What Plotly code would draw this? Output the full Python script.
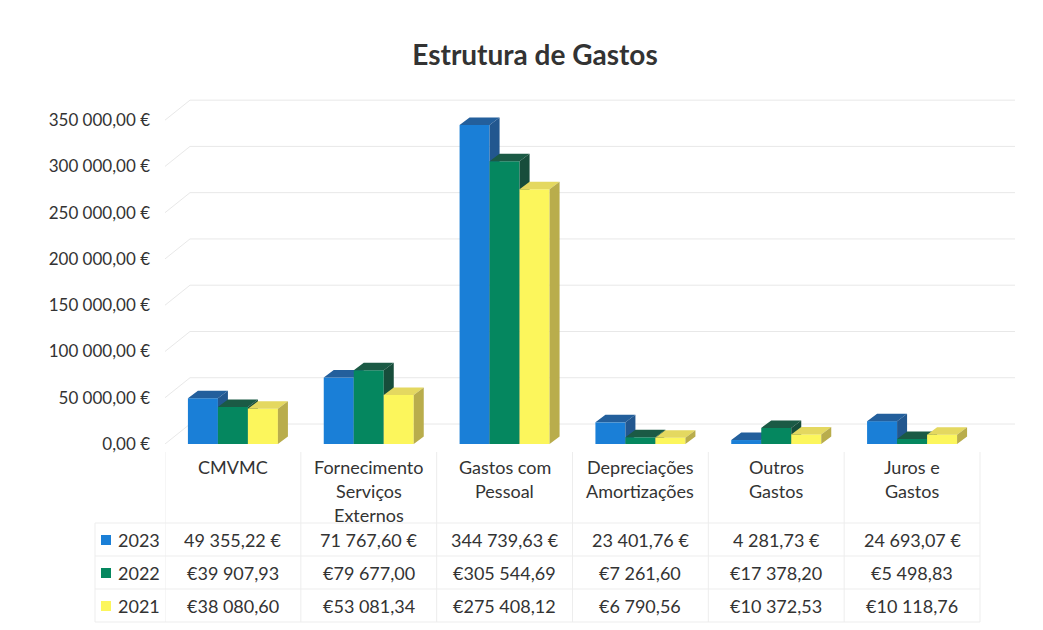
import plotly.graph_objects as go

# ---------------- data ----------------
categories = [
    ["CMVMC"],
    ["Fornecimento", "Serviços", "Externos"],
    ["Gastos com", "Pessoal"],
    ["Depreciações", "Amortizações"],
    ["Outros", "Gastos"],
    ["Juros e", "Gastos"],
]
years = ["2023", "2022", "2021"]
values_2023 = [49355.22, 71767.60, 344739.63, 23401.76, 4281.73, 24693.07]
values_2022 = [39907.93, 79677.00, 305544.69, 7261.60, 17378.20, 5498.83]
values_2021 = [38080.60, 53081.34, 275408.12, 6790.56, 10372.53, 10118.76]
labels_2023 = ["49 355,22 €", "71 767,60 €", "344 739,63 €", "23 401,76 €", "4 281,73 €", "24 693,07 €"]
labels_2022 = ["€39 907,93", "€79 677,00", "€305 544,69", "€7 261,60", "€17 378,20", "€5 498,83"]
labels_2021 = ["€38 080,60", "€53 081,34", "€275 408,12", "€6 790,56", "€10 372,53", "€10 118,76"]
tick_values = [0, 50000, 100000, 150000, 200000, 250000, 300000, 350000]
tick_labels = ["0,00 €", "50 000,00 €", "100 000,00 €", "150 000,00 €", "200 000,00 €",
               "250 000,00 €", "300 000,00 €", "350 000,00 €"]

series = [
    (years[0], values_2023, labels_2023),
    (years[1], values_2022, labels_2022),
    (years[2], values_2021, labels_2021),
]

# ---------------- styling ----------------
FONT = "Lato, Carlito, Calibri, 'Open Sans', sans-serif"
TXT = "#333333"
front_col = ["#1a7fd7", "#05875f", "#fcf65c"]
top_col = ["#235f9c", "#1b5a45", "#e4d860"]
side_col = ["#22578f", "#174d3b", "#b9ad4c"]

OFF = 8  # page body margin of the browser
W, H = 1043 - OFF, 630 - OFF
# plot area in page pixels: x 165..1015, y 97..444
L = 165 - OFF
R = W - (1015 - OFF)
T = 97 - OFF
B = H - (444 - OFF)
plot_w = W - L - R
plot_h = H - T - B
col_px = (980 - 165) / 6.0
x_range = [-0.5, -0.5 + plot_w / col_px]
y_max = 375000
y_range = [0, y_max]
px_per_val = plot_h / y_max

bar_w = 30 / col_px
dx_bar = 10 / col_px
dy_bar = 7.5 / px_per_val
dx_wall = 25 / col_px
dy_wall = 20 / px_per_val


def pxx(X):
    return (X - OFF - L) / plot_w


def pxy(Y):
    return (H - B - (Y - OFF)) / plot_h


fig = go.Figure()

# back wall grid (base subplot)
gx, gy = [], []
for v in tick_values:
    gx += [x_range[0], x_range[0] + dx_wall, x_range[1], None]
    gy += [v, v + dy_wall, v + dy_wall, None]
fig.add_trace(go.Scatter(x=gx, y=gy, mode="lines", line=dict(color="#e8e8e8", width=1),
                         hoverinfo="skip", showlegend=False, xaxis="x", yaxis="y"))

idx = list(range(len(categories)))
for i, (name, vals, _) in enumerate(series):
    xa = "x%d" % (i + 2)
    ya = "y%d" % (i + 2)
    off = -1.5 * bar_w + i * bar_w
    fig.add_trace(go.Bar(x=idx, y=vals, width=bar_w, offset=off, name=name,
                         marker=dict(color=front_col[i], line=dict(width=0)),
                         showlegend=False, xaxis=xa, yaxis=ya))
    tx, ty, sx, sy = [], [], [], []
    for c, v in zip(idx, vals):
        x0 = c + off
        x1 = x0 + bar_w
        tx += [x0, x1, x1 + dx_bar, x0 + dx_bar, x0, None]
        ty += [v, v, v + dy_bar, v + dy_bar, v, None]
        sx += [x1, x1 + dx_bar, x1 + dx_bar, x1, x1, None]
        sy += [0, dy_bar, v + dy_bar, v, 0, None]
    fig.add_trace(go.Scatter(x=tx, y=ty, fill="toself", fillcolor=top_col[i], mode="lines",
                             line=dict(width=0, color=top_col[i]), hoverinfo="skip",
                             showlegend=False, xaxis=xa, yaxis=ya))
    fig.add_trace(go.Scatter(x=sx, y=sy, fill="toself", fillcolor=side_col[i], mode="lines",
                             line=dict(width=0, color=side_col[i]), hoverinfo="skip",
                             showlegend=False, xaxis=xa, yaxis=ya))

annotations = []
# category labels
line_h = 24
for c, lines in zip(idx, categories):
    for k, t in enumerate(lines):
        annotations.append(dict(x=c, y=pxy(467 + k * line_h), xref="x", yref="paper",
                                text=t, showarrow=False, xanchor="center", yanchor="middle",
                                font=dict(family=FONT, size=18, color=TXT)))
# table rows
row_y = [540, 573, 606]
for r, (name, vals, labs) in enumerate(series):
    for c, t in zip(idx, labs):
        annotations.append(dict(x=c, y=pxy(row_y[r]), xref="x", yref="paper",
                                text=t, showarrow=False, xanchor="center", yanchor="middle",
                                font=dict(family=FONT, size=18, color=TXT)))
    annotations.append(dict(x=pxx(116), y=pxy(row_y[r]), xref="paper", yref="paper",
                            text=name, showarrow=False, xanchor="left", yanchor="middle",
                            font=dict(family=FONT, size=18, color=TXT)))

shapes = []
for r in range(3):
    Yc = row_y[r]
    shapes.append(dict(type="rect", xref="paper", yref="paper",
                       x0=pxx(101), x1=pxx(111), y0=pxy(Yc + 5), y1=pxy(Yc - 5),
                       fillcolor=front_col[r], line=dict(width=0)))
# faint table grid
grid_c = "#ededed"
for k in range(7):
    shapes.append(dict(type="line", xref="x", yref="paper", x0=-0.5 + k, x1=-0.5 + k,
                       y0=pxy(452), y1=pxy(622), line=dict(color=grid_c, width=1)))
shapes.append(dict(type="line", xref="paper", yref="paper", x0=pxx(95), x1=pxx(95),
                   y0=pxy(523), y1=pxy(622), line=dict(color=grid_c, width=1)))
for Yl in [523, 556, 589, 622]:
    shapes.append(dict(type="line", xref="paper", yref="paper", x0=pxx(95),
                       x1=pxx(980), y0=pxy(Yl), y1=pxy(Yl), line=dict(color=grid_c, width=1)))

layout = dict(
    width=W, height=H,
    margin=dict(l=L, r=R, t=T, b=B),
    paper_bgcolor="white", plot_bgcolor="white",
    title=dict(text="<b>Estrutura de Gastos</b>", x=(535 - OFF) / W, xanchor="center",
               y=1 - (55 - OFF) / H, yanchor="middle",
               font=dict(family=FONT, size=28, color=TXT)),
    xaxis=dict(range=x_range, showgrid=False, zeroline=False, showticklabels=False,
               showline=False, fixedrange=True),
    yaxis=dict(range=y_range, tickvals=tick_values, ticktext=tick_labels, showgrid=False,
               zeroline=False, showline=False, ticks="", ticklabelstandoff=14,
               tickfont=dict(family=FONT, size=17, color=TXT), fixedrange=True),
    showlegend=False,
    annotations=annotations,
    shapes=shapes,
)
for i in range(2, 5):
    layout["xaxis%d" % i] = dict(range=x_range, overlaying="x", visible=False, fixedrange=True)
    layout["yaxis%d" % i] = dict(range=y_range, overlaying="y", visible=False, fixedrange=True)

fig.update_layout(**layout)
fig.write_html("out.html")
